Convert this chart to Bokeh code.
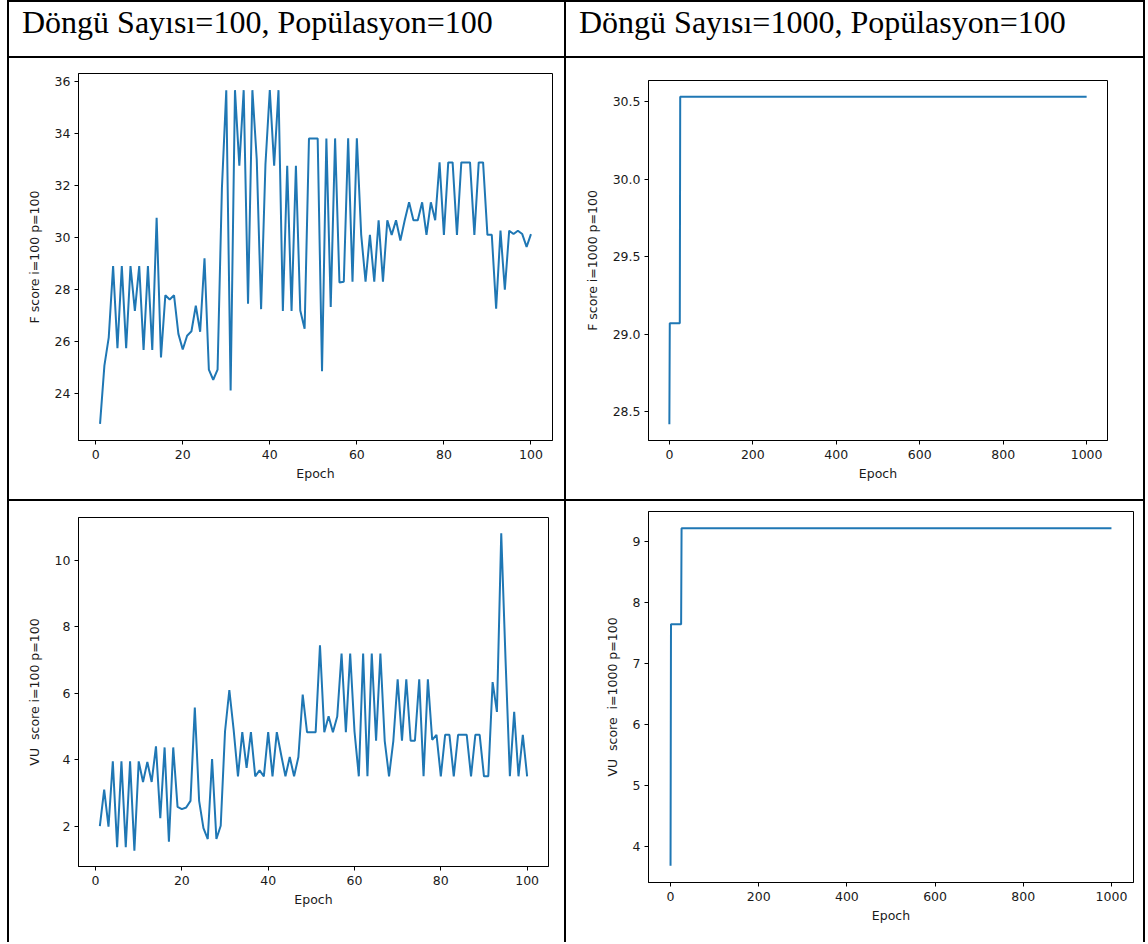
from bokeh.plotting import figure
from bokeh.layouts import row, column
from bokeh.models import Div, Spacer, FixedTicker, PrintfTickFormatter, Range1d
from bokeh.embed import file_html
from bokeh.resources import INLINE

# ---------------- data ----------------
headers = ["Döngü Sayısı=100, Popülasyon=100", "Döngü Sayısı=1000, Popülasyon=100"]

epochs_100 = list(range(1, 101))
f_score_100 = [
    22.85, 25.08, 26.17, 28.90, 25.75, 28.90, 25.75, 28.90, 27.18, 28.90,
    25.68, 28.90, 25.68, 30.75, 25.40, 27.78, 27.62, 27.78, 26.30, 25.70,
    26.23, 26.40, 27.38, 26.38, 29.20, 24.93, 24.54, 24.93, 31.90, 35.65,
    24.13, 35.65, 32.75, 35.65, 27.46, 35.65, 33.00, 27.25, 32.80, 35.65,
    32.75, 35.65, 27.18, 32.75, 27.18, 32.75, 27.20, 26.50, 33.80, 33.80,
    33.80, 24.87, 33.80, 27.33, 33.80, 28.27, 28.30, 33.80, 28.30, 33.80,
    30.10, 28.30, 30.10, 28.30, 30.66, 28.30, 30.66, 30.10, 30.66, 29.88,
    30.66, 31.35, 30.66, 30.66, 31.35, 30.10, 31.35, 30.66, 32.88, 30.10,
    32.88, 32.88, 30.10, 32.88, 32.88, 32.88, 30.10, 32.88, 32.88, 30.10,
    30.10, 27.27, 30.26, 28.00, 30.26, 30.13, 30.26, 30.13, 29.64, 30.13,
]
vu_score_100 = [
    2.00, 3.10, 1.98, 3.95, 1.36, 3.95, 1.36, 3.95, 1.26, 3.95,
    3.33, 3.93, 3.33, 4.40, 2.24, 4.37, 1.53, 4.37, 2.58, 2.51,
    2.56, 2.76, 5.57, 2.76, 1.94, 1.61, 4.02, 1.61, 2.01, 4.85,
    6.10, 4.90, 3.50, 4.83, 3.75, 4.83, 3.50, 3.68, 3.50, 4.83,
    3.50, 4.83, 4.15, 3.50, 4.08, 3.50, 4.08, 5.96, 4.83, 4.83,
    4.83, 7.45, 4.83, 5.31, 4.83, 5.30, 7.20, 4.83, 7.20, 4.85,
    3.50, 7.20, 3.50, 7.20, 4.57, 7.20, 4.57, 3.50, 4.57, 6.42,
    4.57, 6.42, 4.57, 4.57, 6.42, 3.50, 6.42, 4.60, 4.75, 3.50,
    4.75, 4.75, 3.50, 4.75, 4.75, 4.75, 3.50, 4.75, 4.75, 3.50,
    3.50, 6.34, 5.44, 10.82, 7.00, 3.50, 5.44, 3.50, 4.75, 3.50,
]
epochs_1000_f = [0, 1, 25, 26, 1000]
f_score_1000 = [28.42, 29.07, 29.07, 30.53, 30.53]
epochs_1000_vu = [0, 1, 24, 25, 1000]
vu_score_1000 = [3.69, 7.64, 7.64, 9.21, 9.21]

x_ticks_100 = [0, 20, 40, 60, 80, 100]
x_ticks_1000 = [0, 200, 400, 600, 800, 1000]
y_ticks_f100 = [24, 26, 28, 30, 32, 34, 36]
y_ticks_vu100 = [2, 4, 6, 8, 10]
y_ticks_f1000 = [28.5, 29.0, 29.5, 30.0, 30.5]
y_ticks_vu1000 = [4, 5, 6, 7, 8, 9]

y_labels = ["F score i=100 p=100", "F score i=1000 p=100",
            "VU\u00a0 score i=100 p=100", "VU\u00a0 score\u00a0 i=1000 p=100"]

LINE = "#1f77b4"
FONT = "DejaVu Sans"
TXT = "#1a1a1a"


def padded(vals):
    lo, hi = min(vals), max(vals)
    d = (hi - lo) * 0.05
    return lo - d, hi + d


def make_fig(x, y, xt, yt, ylab, yfmt, geom):
    w, h, l, r, t, b = geom
    x0, x1 = padded(x)
    y0, y1 = padded(y)
    p = figure(frame_width=w - l - r, frame_height=h - t - b,
               min_border_left=l, min_border_right=r,
               min_border_top=t, min_border_bottom=b,
               x_range=Range1d(x0, x1), y_range=Range1d(y0, y1),
               output_backend="svg", toolbar_location=None)
    p.line(x, y, line_color=LINE, line_width=2)
    p.grid.visible = False
    p.outline_line_color = "black"
    p.outline_line_width = 1
    p.background_fill_color = "white"
    p.border_fill_color = "white"
    for ax in (p.xaxis[0], p.yaxis[0]):
        ax.axis_line_color = "black"
        ax.major_tick_line_color = "black"
        ax.minor_tick_line_color = None
        ax.major_tick_out = 4
        ax.major_tick_in = 0
        ax.major_label_text_font = FONT
        ax.major_label_text_font_size = "12.5px"
        ax.major_label_text_color = TXT
        ax.axis_label_text_font = FONT
        ax.axis_label_text_font_size = "12.5px"
        ax.axis_label_text_font_style = "normal"
        ax.axis_label_text_color = TXT
    p.xaxis.ticker = FixedTicker(ticks=xt)
    p.yaxis.ticker = FixedTicker(ticks=yt)
    if yfmt:
        p.yaxis.formatter = PrintfTickFormatter(format=yfmt)
    p.xaxis.axis_label = "Epoch"
    p.yaxis.axis_label = ylab
    p.xaxis.major_label_standoff = 5
    p.yaxis.major_label_standoff = 4
    p.xaxis.axis_label_standoff = 4
    p.yaxis.axis_label_standoff = 10
    return p


# cell geometry: width, height, left, right, top, bottom
p_tl = make_fig(epochs_100, f_score_100, x_ticks_100, y_ticks_f100, y_labels[0], None,
                (555, 441, 69, 12, 15, 59))
p_tr = make_fig(epochs_1000_f, f_score_1000, x_ticks_1000, y_ticks_f1000, y_labels[1], "%.1f",
                (577, 441, 82, 36, 22, 59))
p_bl = make_fig(epochs_100, vu_score_100, x_ticks_100, y_ticks_vu100, y_labels[2], None,
                (555, 441, 69, 16, 16, 76))
p_br = make_fig(epochs_1000_vu, vu_score_1000, x_ticks_1000, y_ticks_vu1000, y_labels[3], None,
                (577, 441, 67, 25, 10, 60))


def hline(w):
    return Div(text="", width=w, height=2, margin=0, styles={"background-color": "black"})


def vline(h):
    return Div(text="", width=2, height=h, margin=0, styles={"background-color": "black"})


def header(txt, w):
    html = ('<div style="font-family: \'Liberation Serif\', serif; font-size: 32px; '
            'color: black; padding: 0 0 0 13px; line-height: 40px; white-space: nowrap;">'
            + txt + '</div>')
    return Div(text=html, width=w, height=54, margin=0)


col1 = column(hline(555), header(headers[0], 555), hline(555), p_tl, hline(555), p_bl, spacing=0)
col2 = column(hline(577), header(headers[1], 577), hline(577), p_tr, hline(577), p_br, spacing=0)
page = row(Spacer(width=7, height=942), vline(942), col1, vline(942), col2, vline(942), spacing=0)

open("out.html", "w").write(file_html(page, INLINE))
